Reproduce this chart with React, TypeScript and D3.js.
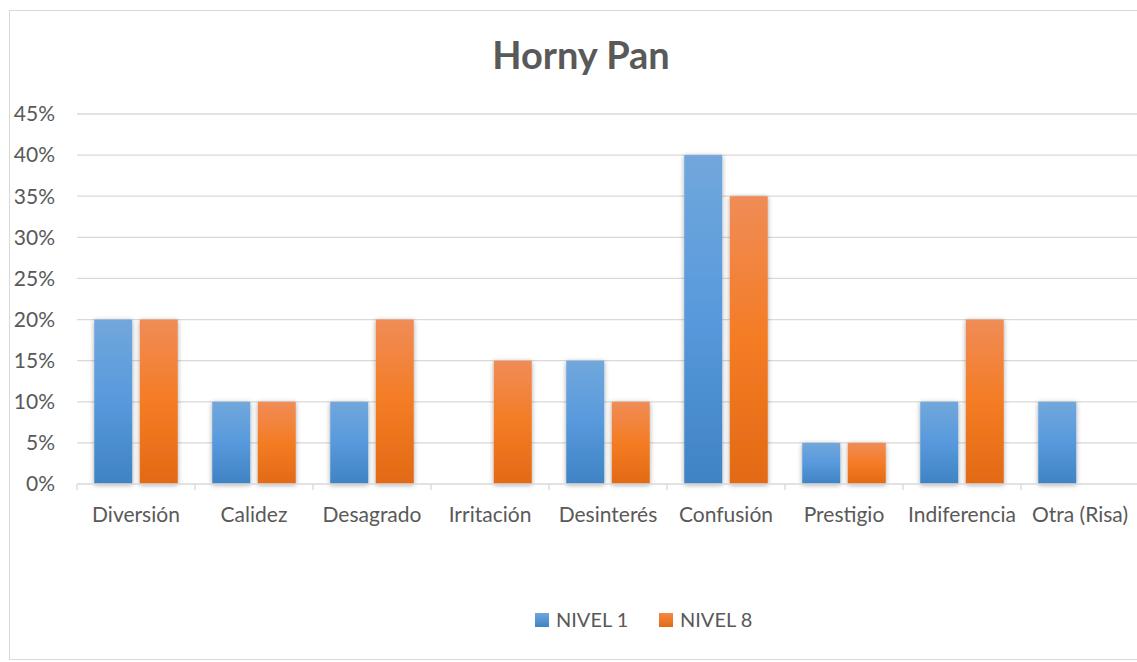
import React from "react";
import * as d3 from "d3";

const categories = ["Diversión", "Calidez", "Desagrado", "Irritación", "Desinterés", "Confusión", "Prestigio", "Indiferencia", "Otra (Risa)"];
const seriesNames = ["NIVEL 1", "NIVEL 8"];
const nivel1 = [0.20, 0.10, 0.10, 0, 0.15, 0.40, 0.05, 0.10, 0.10];
const nivel8 = [0.20, 0.10, 0.20, 0.15, 0.10, 0.35, 0.05, 0.20, 0];
const yTicks = [0, 0.05, 0.1, 0.15, 0.2, 0.25, 0.3, 0.35, 0.4, 0.45];

const W = 1137, H = 662;
const font = "Lato, 'Open Sans', sans-serif";
const textColor = "#595959";

export default function App() {
  const x = d3.scaleBand<string>().domain(categories).range([77, 1139]).paddingInner(0).paddingOuter(0);
  const x1 = d3.scaleBand<string>().domain(seriesNames).range([0, x.bandwidth()]).paddingInner(0.165).paddingOuter(0.379);
  const y = d3.scaleLinear().domain([0, 0.45]).range([484, 114]);
  const fmt = d3.format(".0%");
  const data = [nivel1, nivel8];
  const grads = ["gBlue", "gOrange"];

  return (
    <svg width={W} height={H} style={{ position: "absolute", left: 0, top: 0 }} fontFamily={font}>
      <defs>
        <linearGradient id="gBlue" x1="0" y1="0" x2="0" y2="1">
          <stop offset="0" stopColor="#71a7dc" />
          <stop offset="0.5" stopColor="#5799dc" />
          <stop offset="1" stopColor="#3f83c4" />
        </linearGradient>
        <linearGradient id="gOrange" x1="0" y1="0" x2="0" y2="1">
          <stop offset="0" stopColor="#f08c57" />
          <stop offset="0.5" stopColor="#f47c24" />
          <stop offset="1" stopColor="#e26a15" />
        </linearGradient>
        <linearGradient id="lBlue" x1="0" y1="0" x2="0" y2="1">
          <stop offset="0" stopColor="#6ea6dc" />
          <stop offset="1" stopColor="#3f83c4" />
        </linearGradient>
        <linearGradient id="lOrange" x1="0" y1="0" x2="0" y2="1">
          <stop offset="0" stopColor="#f38a45" />
          <stop offset="1" stopColor="#e26a15" />
        </linearGradient>
        <filter id="shadow" x="-30%" y="-10%" width="160%" height="120%">
          <feDropShadow dx="0" dy="1" stdDeviation="2.5" floodColor="#000" floodOpacity="0.35" />
        </filter>
      </defs>
      <rect x={9.5} y={10.5} width={W + 5} height={H - 13} fill="#fff" stroke="#d9d9d9" strokeWidth={1} />
      <text x={581} y={69} textAnchor="middle" fontSize={38} fontWeight="bold" fill={textColor}>Horny Pan</text>
      {yTicks.map((t) => (
        <g key={t}>
          {t > 0 && <line x1={77} x2={1139} y1={y(t)} y2={y(t)} stroke="#d9d9d9" strokeWidth={1.3} />}
          <text x={55} y={y(t)} dy="0.35em" textAnchor="end" fontSize={21} fill={textColor}>{fmt(t)}</text>
        </g>
      ))}
      {categories.map((c, i) => (
        <g key={c}>
          {data.map((vals, s) => {
            const v = vals[i];
            if (!v) return null;
            const bx = (x(c) as number) + (x1(seriesNames[s]) as number);
            return (
              <rect key={s} x={bx} y={y(v)} width={x1.bandwidth()} height={y(0) - y(v)} fill={`url(#${grads[s]})`} filter="url(#shadow)" />
            );
          })}
        </g>
      ))}
      <line x1={77} x2={1139} y1={y(0)} y2={y(0)} stroke="#d9d9d9" strokeWidth={1.3} />
      {categories.map((c) => (
        <line key={"t" + c} x1={x(c)} x2={x(c)} y1={y(0)} y2={y(0) + 6} stroke="#d9d9d9" strokeWidth={1.3} />
      ))}
      <line x1={1139} x2={1139} y1={y(0)} y2={y(0) + 6} stroke="#d9d9d9" />
      {categories.map((c) => (
        <text key={"l" + c} x={(x(c) as number) + x.bandwidth() / 2} y={515} dy="0.35em" textAnchor="middle" fontSize={21} fill={textColor}>{c}</text>
      ))}
      {seriesNames.map((s, i) => {
        const lx = [535, 659][i];
        return (
          <g key={s}>
            <rect x={lx} y={613} width={14} height={14} fill={`url(#${["lBlue", "lOrange"][i]})`} />
            <text x={lx + 21} y={620} dy="0.35em" fontSize={20} fill={textColor}>{s}</text>
          </g>
        );
      })}
    </svg>
  );
}
